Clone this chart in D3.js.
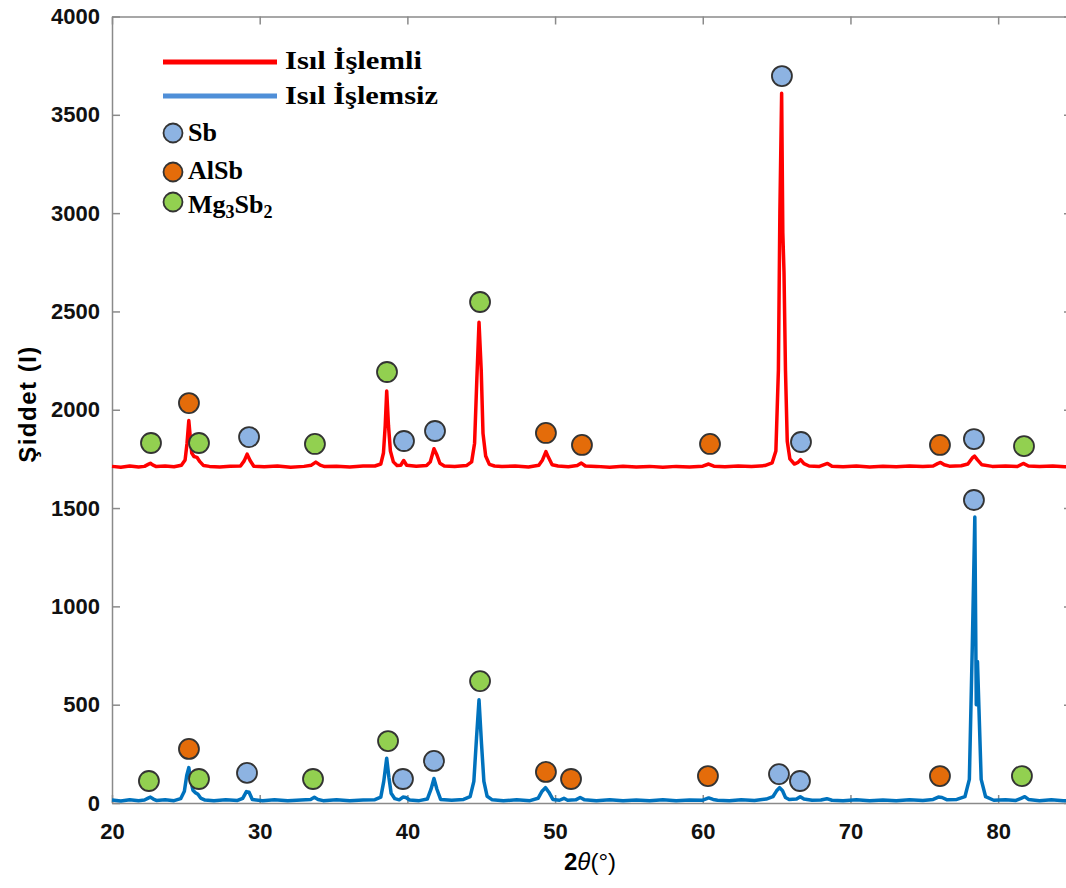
<!DOCTYPE html>
<html>
<head>
<meta charset="utf-8">
<script src="https://cdn.jsdelivr.net/npm/d3@7"></script>
<style>
  body { margin: 0; background: #fff; }
  svg { display: block; }
  .axis path, .axis line { stroke: #8a8a8a; stroke-width: 1.5; }
  .axis text { font-family: "Liberation Sans", Arial, sans-serif; font-weight: bold; font-size: 22px; fill: #111; }
</style>
</head>
<body>
<svg id="chart" width="1066" height="888"></svg>
<script>
// 2theta / intensity pairs
var heatTreated = [
  [20.0,1712],[20.6,1708],[21.2,1714],[21.8,1709],[22.2,1712],[22.45,1722],[22.6,1728],[22.75,1720],[23.0,1711],
  [23.6,1714],[24.2,1710],[24.7,1718],[24.95,1745],[25.08,1830],[25.2,1945],[25.3,1860],[25.4,1780],[25.55,1762],[25.75,1758],[25.95,1736],[26.2,1716],[26.6,1712],
  [27.3,1709],[28.0,1713],[28.7,1714],[28.95,1740],[29.15,1774],[29.35,1742],[29.6,1713],
  [30.3,1710],[31.2,1714],[32.1,1708],[33.0,1712],[33.5,1718],[33.8,1734],[34.1,1718],[34.4,1711],
  [35.2,1713],[36.1,1709],[37.0,1714],[37.8,1714],[38.2,1724],[38.38,1780],[38.5,1920],[38.6,2095],[38.72,1920],[38.85,1790],[39.05,1735],[39.3,1716],[39.55,1718],[39.75,1742],[39.95,1718],
  [40.6,1713],[41.3,1716],[41.55,1735],[41.8,1802],[42.0,1770],[42.2,1728],[42.5,1714],
  [43.2,1711],[44.0,1716],[44.35,1735],[44.55,1830],[44.7,2150],[44.85,2445],[45.0,2200],[45.12,1880],[45.3,1765],[45.55,1722],[45.9,1714],
  [46.4,1711],[47.3,1714],[48.2,1709],[48.9,1718],[49.15,1745],[49.38,1787],[49.55,1758],[49.8,1720],[50.2,1714],
  [50.9,1710],[51.5,1716],[51.78,1729],[52.05,1714],
  [52.8,1712],[53.7,1708],[54.6,1713],[55.5,1709],[56.4,1712],[57.3,1708],[58.2,1712],[59.1,1709],[60.0,1713],[60.4,1724],[60.75,1713],
  [61.5,1710],[62.4,1714],[63.3,1711],[64.2,1716],[64.7,1730],[64.95,1790],[65.12,2200],[65.22,3000],[65.34,3610],[65.42,2900],[65.5,2700],[65.6,2200],[65.72,1840],[65.9,1750],[66.2,1724],
  [66.45,1732],[66.62,1746],[66.85,1726],[67.2,1714],[67.9,1712],[68.45,1727],[68.75,1713],
  [69.5,1710],[70.4,1714],[71.3,1709],[72.2,1713],[73.1,1710],[74.0,1714],[74.9,1711],[75.6,1714],[75.9,1726],[76.1,1732],[76.35,1720],[76.7,1713],
  [77.5,1715],[77.95,1724],[78.25,1755],[78.4,1764],[78.6,1745],[78.9,1720],[79.6,1712],
  [80.5,1714],[81.3,1711],[81.7,1727],[82.05,1714],[82.8,1711],[83.7,1714],[84.5,1710],[85.0,1712]
];

var untreated = [
  [20.0,15],[20.6,10],[21.2,17],[21.8,12],[22.2,15],[22.45,25],[22.6,30],[22.8,20],[23.0,13],
  [23.6,16],[24.2,12],[24.65,22],[24.9,60],[25.06,140],[25.2,180],[25.32,120],[25.48,65],[25.65,52],[25.82,44],[26.0,25],[26.3,15],
  [26.9,12],[27.7,16],[28.5,13],[28.85,24],[29.1,58],[29.28,55],[29.5,18],
  [30.2,12],[31.0,16],[31.9,11],[32.8,15],[33.45,18],[33.7,29],[33.95,18],[34.3,12],
  [35.2,16],[36.1,11],[37.0,15],[37.8,17],[38.2,30],[38.4,110],[38.6,228],[38.75,130],[38.9,50],[39.15,22],[39.45,16],[39.7,30],[39.9,28],[40.15,15],
  [40.8,12],[41.35,20],[41.6,70],[41.8,125],[42.0,70],[42.25,18],
  [43.0,14],[43.8,18],[44.25,32],[44.5,110],[44.68,330],[44.85,525],[45.02,300],[45.18,110],[45.4,34],[45.75,16],
  [46.5,11],[47.4,16],[48.3,12],[48.85,24],[49.12,60],[49.35,78],[49.58,55],[49.85,18],
  [50.3,14],[50.6,24],[50.85,14],[51.4,16],[51.7,28],[52.0,16],
  [52.8,12],[53.7,16],[54.6,11],[55.5,15],[56.4,12],[57.3,16],[58.2,11],[59.1,15],[60.0,14],[60.4,26],[60.7,18],[61.0,14],
  [61.8,12],[62.6,16],[63.5,13],[64.3,20],[64.75,32],[65.0,62],[65.2,78],[65.4,62],[65.6,28],[65.85,18],
  [66.35,20],[66.6,32],[66.85,20],[67.4,14],[68.0,15],[68.4,22],[68.75,14],
  [69.5,11],[70.4,16],[71.3,12],[72.2,15],[73.1,11],[74.0,16],[74.9,13],[75.6,18],[75.95,30],[76.2,28],[76.55,16],
  [77.2,18],[77.75,32],[78.05,120],[78.25,800],[78.42,1455],[78.52,500],[78.6,720],[78.7,480],[78.85,120],[79.15,32],[79.7,14],
  [80.5,16],[81.2,13],[81.55,24],[81.8,32],[82.05,18],[82.8,12],[83.6,16],[84.4,11],[85.0,14]
];

// phase markers (2theta, intensity)
var sbHeat   = [[29.28,1861],[39.77,1841],[41.87,1892],[65.36,3697],[66.65,1836],[78.36,1851]];
var alsbHeat = [[25.21,2034],[49.38,1882],[51.82,1821],[60.49,1826],[76.06,1821]];
var mgHeat   = [[22.64,1831],[25.89,1831],[33.74,1826],[38.62,2192],[44.92,2548],[81.75,1815]];

var sbRaw   = [[29.14,153],[39.70,122],[41.80,214],[65.16,147],[66.58,112],[78.36,1541]];
var alsbRaw = [[25.21,275],[49.38,158],[51.08,122],[60.35,137],[76.06,137]];
var mgRaw   = [[22.5,112],[25.89,122],[33.61,122],[38.69,315],[44.92,620],[81.61,137]];

var xTicks = [20, 30, 40, 50, 60, 70, 80];
var yTicks = [0, 500, 1000, 1500, 2000, 2500, 3000, 3500, 4000];
var seriesNames = ['Isıl İşlemli', 'Isıl İşlemsiz'];

var svg = d3.select('#chart');

var x = d3.scaleLinear().domain([20, 85]).range([112, 1072]);
var y = d3.scaleLinear().domain([0, 4000]).range([803, 16.5]);

var phaseColors = { sb: '#8db3e2', alsb: '#e46c0a', mg: '#92d050' };

// axes
svg.append('g').attr('class', 'axis')
  .attr('transform', 'translate(112,0)')
  .call(d3.axisLeft(y).tickValues(yTicks).tickFormat(d3.format('d'))
    .tickSize(-8).tickSizeOuter(0).tickPadding(12));

svg.append('g').attr('class', 'axis')
  .attr('transform', 'translate(0,803)')
  .call(d3.axisBottom(x).tickValues(xTicks).tickSize(-8).tickSizeOuter(0).tickPadding(20));

svg.append('g').attr('class', 'axis')
  .attr('transform', 'translate(0,16.5)')
  .call(d3.axisTop(x).tickValues(xTicks).tickSize(-8).tickSizeOuter(0).tickFormat(''));

svg.append('g').attr('class', 'axis')
  .attr('transform', 'translate(1072,0)')
  .call(d3.axisRight(y).tickValues(yTicks).tickSize(-8).tickSizeOuter(0).tickFormat(''));

// axis titles
svg.append('text')
  .attr('transform', 'translate(36,404) rotate(-90)')
  .attr('text-anchor', 'middle')
  .style('font-family', '"Liberation Sans", Arial, sans-serif')
  .style('font-weight', 'bold')
  .style('font-size', '24px')
  .style('letter-spacing', '1.5px')
  .text('Şiddet (I)');

var xl = svg.append('text')
  .attr('x', 590).attr('y', 870)
  .attr('text-anchor', 'middle')
  .style('font-family', '"Liberation Sans", Arial, sans-serif')
  .style('font-weight', 'bold')
  .style('font-size', '24px');
xl.append('tspan').text('2');
xl.append('tspan').style('font-style', 'italic').style('font-weight', 'normal').text('θ');
xl.append('tspan').style('font-weight', 'normal').text('(°)');

// curves
var line = d3.line().x(function (d) { return x(d[0]); }).y(function (d) { return y(d[1]); });

svg.append('path').datum(untreated)
  .attr('d', line).attr('fill', 'none')
  .attr('stroke', '#0072bd').attr('stroke-width', 3.5).attr('stroke-linejoin', 'round');

svg.append('path').datum(heatTreated)
  .attr('d', line).attr('fill', 'none')
  .attr('stroke', '#ff0000').attr('stroke-width', 3.5).attr('stroke-linejoin', 'round');

// markers
function drawMarks(data, color) {
  svg.append('g').selectAll('circle').data(data).enter().append('circle')
    .attr('cx', function (d) { return x(d[0]); })
    .attr('cy', function (d) { return y(d[1]); })
    .attr('r', 10)
    .attr('fill', color)
    .attr('stroke', '#333')
    .attr('stroke-width', 1.8);
}
drawMarks(sbHeat, phaseColors.sb);
drawMarks(alsbHeat, phaseColors.alsb);
drawMarks(mgHeat, phaseColors.mg);
drawMarks(sbRaw, phaseColors.sb);
drawMarks(alsbRaw, phaseColors.alsb);
drawMarks(mgRaw, phaseColors.mg);

// legend
var legend = svg.append('g');
var serif = '"Liberation Serif", "Times New Roman", serif';

legend.append('line').attr('x1', 163).attr('x2', 277).attr('y1', 62).attr('y2', 62)
  .attr('stroke', '#ff0000').attr('stroke-width', 5);
legend.append('line').attr('x1', 163).attr('x2', 277).attr('y1', 96).attr('y2', 96)
  .attr('stroke', '#4f8fd8').attr('stroke-width', 5);

legend.selectAll('text.series').data(seriesNames).enter().append('text')
  .attr('class', 'series')
  .attr('x', 285)
  .attr('y', function (d, i) { return 69 + i * 35; })
  .attr('textLength', function (d, i) { return i === 0 ? 137 : 153; })
  .attr('lengthAdjust', 'spacingAndGlyphs')
  .style('font-family', serif).style('font-weight', 'bold').style('font-size', '26px')
  .text(function (d) { return d; });

var phaseRows = [
  { color: phaseColors.sb, cy: 133 },
  { color: phaseColors.alsb, cy: 172 },
  { color: phaseColors.mg, cy: 202 }
];
legend.selectAll('circle').data(phaseRows).enter().append('circle')
  .attr('cx', 173).attr('cy', function (d) { return d.cy; })
  .attr('r', 9.5).attr('fill', function (d) { return d.color; })
  .attr('stroke', '#333').attr('stroke-width', 1.8);

function legendText(yPos) {
  return legend.append('text').attr('x', 188).attr('y', yPos)
    .style('font-family', serif).style('font-weight', 'bold').style('font-size', '26px');
}
legendText(141).text('Sb');
legendText(179).text('AlSb');
var mg = legendText(213);
mg.append('tspan').text('Mg');
mg.append('tspan').attr('dy', 5).style('font-size', '18px').text('3');
mg.append('tspan').attr('dy', -5).text('Sb');
mg.append('tspan').attr('dy', 5).style('font-size', '18px').text('2');
</script>
</body>
</html>
